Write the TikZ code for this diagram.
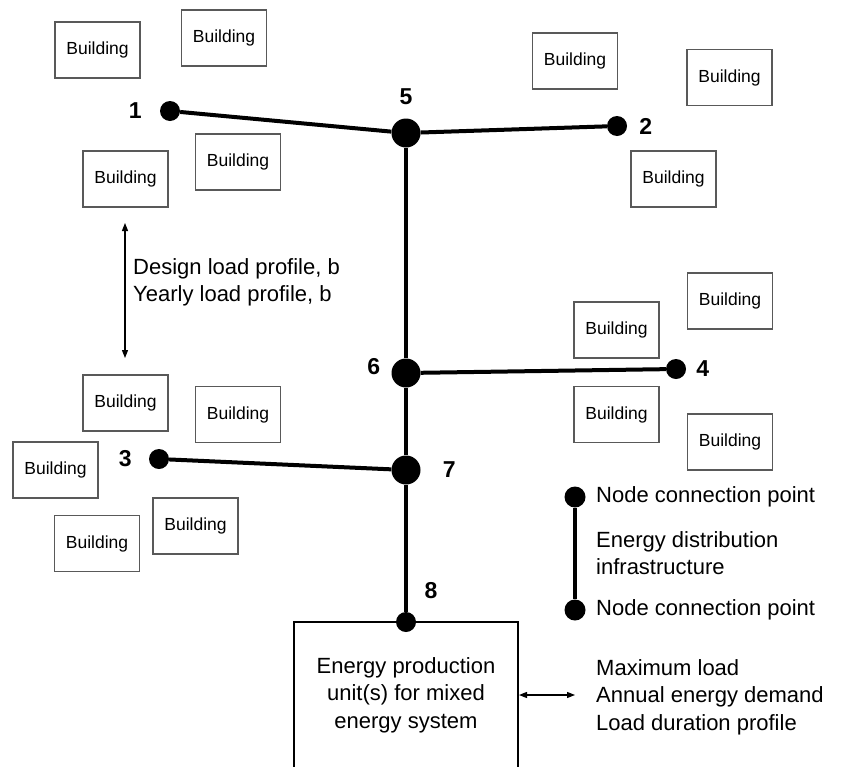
\documentclass[tikz,border=0pt]{standalone}
\usepackage{fontspec}
\setmainfont{Liberation Sans}
\usetikzlibrary{arrows.meta,positioning}

\newcommand{\bldgfont}{\fontsize{17.5}{21}\selectfont}
\newcommand{\txtfont}{\fontsize{22}{27.5}\selectfont}
\newcommand{\numfont}{\fontsize{23}{26}\selectfont\bfseries}

\begin{document}
\begin{tikzpicture}[
    x=1pt, y=-1pt,
    bldg/.style={rectangle, draw=black!65, line width=1.2pt, minimum width=85pt, minimum height=56pt, inner sep=0pt, font=\bldgfont},
    bigdot/.style={circle, fill=black, minimum size=29pt, inner sep=0pt},
    smalldot/.style={circle, fill=black, minimum size=20pt, inner sep=0pt},
    pipe/.style={line width=4pt},
    lbl/.style={font=\numfont, inner sep=0pt},
    txt/.style={font=\txtfont, align=left, anchor=west, inner sep=0pt},
    dbl/.style={{Triangle[length=8pt,width=6pt]}-{Triangle[length=8pt,width=6pt]}, line width=1.2pt},
]
\useasboundingbox (0,0) rectangle (843,766);

% Buildings, top left
\node[bldg] (b1) at (97.5,50) {Building};
\node[bldg] (b2) at (224,38) {Building};
\node[bldg] (b3) at (125.5,179) {Building};
\node[bldg] (b4) at (238,162) {Building};

% Buildings, top right
\node[bldg] (b5) at (575,61) {Building};
\node[bldg] (b6) at (729.5,77.5) {Building};
\node[bldg] (b7) at (673.5,179) {Building};

% Buildings, middle right
\node[bldg] (b8) at (730,301) {Building};
\node[bldg] (b9) at (616.5,330) {Building};
\node[bldg] (b10) at (616.5,414.5) {Building};
\node[bldg] (b11) at (730,442) {Building};

% Buildings, bottom left
\node[bldg] (b12) at (125.5,403) {Building};
\node[bldg] (b13) at (238,414.5) {Building};
\node[bldg] (b14) at (55.5,470) {Building};
\node[bldg] (b15) at (195.5,526) {Building};
\node[bldg] (b16) at (97,543.5) {Building};

% Energy production unit
\node[rectangle, draw, line width=2pt, minimum width=224pt, minimum height=146pt,
      font=\txtfont, align=center] (prod) at (406,695) {Energy production\\unit(s) for mixed\\energy system};

% Connection points
\node[smalldot] (n1) at (170,111) {};
\node[smalldot] (n2) at (617,126) {};
\node[smalldot] (n3) at (159,459) {};
\node[smalldot] (n4) at (676,369) {};
\node[bigdot] (n5) at (406,133) {};
\node[bigdot] (n6) at (406,373) {};
\node[bigdot] (n7) at (406,470) {};
\node[smalldot] (n8) at (406,622) {};

% Distribution network
\draw[pipe] (n1) -- (n5);
\draw[pipe] (n5) -- (n2);
\draw[pipe] (n5) -- (n6);
\draw[pipe] (n6) -- (n4);
\draw[pipe] (n6) -- (n7);
\draw[pipe] (n3) -- (n7);
\draw[pipe] (n7) -- (n8);

% Numbers
\node[lbl, left=18pt of n1] {1};
\node[lbl, right=12pt of n2] {2};
\node[lbl, left=17pt of n3] {3};
\node[lbl, right=10pt of n4] {4};
\node[lbl, above=13pt of n5] {5};
\node[lbl, left=11pt of n6, yshift=6pt] {6};
\node[lbl, right=22pt of n7] {7};
\node[lbl] at (431,591) {8};

% Load profile arrow
\coordinate (lptop) at (125,223);
\coordinate (lpbot) at (125,358);
\draw[dbl] (lptop) -- (lpbot);
\node[txt] (lp) at (133,282.5) {Design load profile, b\\Yearly load profile, b};

% Legend
\node[smalldot, minimum size=21pt] (lg1) at (575,497) {};
\node[smalldot, minimum size=21pt] (lg2) at (575,610) {};
\draw[pipe] (lg1) -- (lg2);
\node[txt] (lgt1) at (596,497) {Node connection point};
\node[txt] (lgt2) at (596,553) {Energy distribution\\infrastructure};
\node[txt] (lgt3) at (596,610) {Node connection point};

% Demand arrow
\coordinate (dmd) at (575,695);
\draw[dbl] (prod.east) -- (dmd);
\node[txt] (demand) at (596,697) {Maximum load\\Annual energy demand\\Load duration profile};

\end{tikzpicture}
\end{document}
